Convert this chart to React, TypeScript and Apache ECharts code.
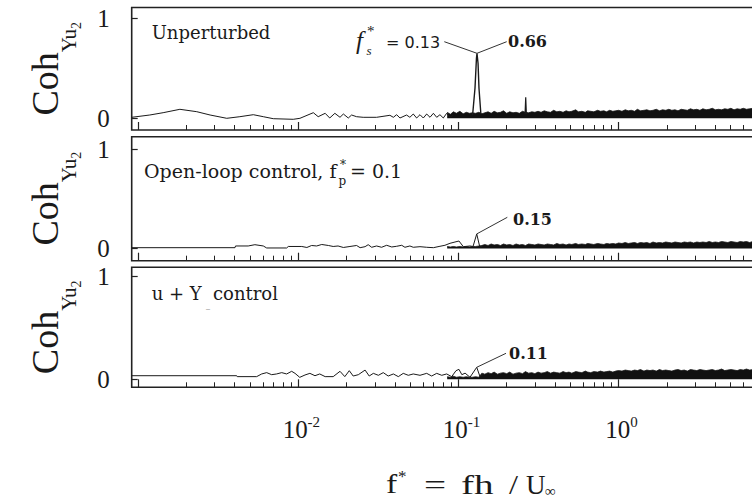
import React, { useEffect, useRef } from "react";
import * as echarts from "echarts";

// ---------- axis data ----------
const xMin = 0.00091;
const xMax = 10;
const majorTicks = [0.001, 0.01, 0.1, 1, 10];
const minorTicks = [
  0.002, 0.003, 0.004, 0.005, 0.006, 0.007, 0.008, 0.009,
  0.02, 0.03, 0.04, 0.05, 0.06, 0.07, 0.08, 0.09,
  0.2, 0.3, 0.4, 0.5, 0.6, 0.7, 0.8, 0.9,
  2, 3, 4, 5, 6, 7, 8, 9,
];
const xLabelTicks = [0.01, 0.1, 1];
const yTickValues = [0, 1];
const yMins = [-0.117, -0.123, -0.078];
const yMaxs = [1.108, 1.124, 1.092];
const yName = "{c|Coh}{s|Yu}{ss|2}";

// ---------- panel 1 : Unperturbed ----------
const p1LowFreq = [
  0.00091, 0.00118, 0.00143, 0.00182, 0.00232, 0.00281, 0.00357, 0.00431, 0.00523, 0.00604,
  0.00697, 0.00929, 0.01023, 0.0124, 0.0133, 0.0147, 0.0157, 0.0169, 0.0182, 0.0191,
  0.0205, 0.0215, 0.0231, 0.0254, 0.0308, 0.0373, 0.0392, 0.0411, 0.0431, 0.0474,
  0.0497, 0.0522, 0.0548, 0.0575, 0.0603, 0.0633, 0.0664, 0.0697, 0.0731, 0.0766,
  0.0804, 0.0844, 0.0885, 0.0929,
];
const p1LowVal = [
  0.01, 0.033, 0.056, 0.09, 0.066, 0.033, 0.0, 0.016, 0.036, 0.016,
  -0.004, -0.01, 0.0, 0.056, 0.016, 0.05, 0.003, 0.05, 0.01, 0.043,
  0.003, 0.033, 0.016, 0.01, 0.01, 0.03, 0.01, 0.036, 0.003, 0.033,
  0.01, 0.043, 0.003, 0.036, 0.003, 0.043, 0.01, 0.05, 0.01, 0.036,
  0.003, 0.05, 0.01, 0.03,
];
const p1PeakFreq = [0.1225, 0.1268, 0.1295, 0.1305, 0.1325, 0.1343, 0.138];
const p1PeakVal = [0.03, 0.3, 0.6, 0.65, 0.55, 0.3, 0.04];
const p1HarmFreq = [0.2605, 0.263, 0.2655];
const p1HarmVal = [0.04, 0.21, 0.04];

// ---------- dense high-frequency band (upper envelope) ----------
const bandFreq = [
  0.085, 0.089, 0.093, 0.097, 0.102, 0.107, 0.112, 0.117, 0.122, 0.128, 0.134, 0.14,
  0.146, 0.153, 0.16, 0.167, 0.175, 0.183, 0.191, 0.2, 0.209, 0.219, 0.229, 0.24,
  0.251, 0.262, 0.274, 0.287, 0.3, 0.314, 0.328, 0.343, 0.359, 0.376, 0.393, 0.411,
  0.43, 0.45, 0.47, 0.49, 0.51, 0.54, 0.56, 0.59, 0.62, 0.64, 0.67, 0.7, 0.74, 0.77,
  0.81, 0.84, 0.88, 0.92, 0.96, 1.0, 1.05, 1.1, 1.15, 1.2, 1.26, 1.31, 1.37, 1.44,
  1.5, 1.57, 1.64, 1.72, 1.8, 1.88, 1.97, 2.06, 2.15, 2.25, 2.35, 2.46, 2.57, 2.69,
  2.81, 2.94, 3.08, 3.22, 3.36, 3.52, 3.68, 3.85, 4.02, 4.21, 4.4, 4.6, 4.81, 5.03,
  5.26, 5.5, 5.75, 6.01, 6.29, 6.58, 6.88, 7.19, 7.52, 7.86, 8.2,
];
const p1Band = [
  0.06, 0.04, 0.065, 0.05, 0.07, 0.045, 0.06, 0.05, 0.055, 0.05, 0.06, 0.045,
  0.055, 0.065, 0.05, 0.07, 0.055, 0.06, 0.075, 0.05, 0.065, 0.055, 0.06, 0.05, 0.07, 0.06, 0.055, 0.065, 0.06,
  0.07, 0.06, 0.075, 0.065, 0.06, 0.08, 0.065, 0.07, 0.06, 0.075, 0.065, 0.07, 0.085, 0.065, 0.07, 0.06, 0.075,
  0.07, 0.065, 0.08, 0.07, 0.075, 0.065, 0.08, 0.07, 0.075,
  0.08, 0.07, 0.085, 0.075, 0.08, 0.07, 0.09, 0.075, 0.08, 0.085, 0.075, 0.08, 0.09, 0.075, 0.085, 0.08,
  0.09, 0.08, 0.085, 0.075, 0.09, 0.085, 0.08, 0.095, 0.085, 0.09, 0.08, 0.095, 0.085, 0.09, 0.1, 0.085,
  0.09, 0.085, 0.095, 0.09, 0.1, 0.085, 0.095, 0.09, 0.1, 0.09, 0.095, 0.1, 0.09, 0.1, 0.095, 0.1,
];

// ---------- panel 2 : Open-loop control ----------
const p2LowFreq = [
  0.00091, 0.00402, 0.00405, 0.00486, 0.00535, 0.00604, 0.00634, 0.00845, 0.00865, 0.0105,
  0.0113, 0.0121, 0.013, 0.014, 0.0154, 0.0165, 0.0177, 0.0191, 0.021, 0.0231,
  0.0243, 0.0261, 0.0273, 0.0287, 0.0308, 0.0331, 0.0356, 0.0383, 0.0411, 0.0442,
  0.0463, 0.0497, 0.0522, 0.0575, 0.0633, 0.0697, 0.0766, 0.0823, 0.0885, 0.0951,
  0.1007, 0.1072, 0.118, 0.1233, 0.13, 0.136, 0.143,
];
const p2LowVal = [
  0.008, 0.008, 0.025, 0.025, 0.038, 0.025, 0.005, 0.005, 0.02, 0.02,
  0.01, 0.03, 0.025, 0.04, 0.03, 0.02, 0.025, 0.01, 0.02, 0.03,
  0.008, 0.018, 0.038, 0.012, 0.025, 0.012, 0.032, 0.015, 0.022, 0.032,
  0.012, 0.025, 0.012, 0.018, 0.012, 0.008, 0.022, 0.032, 0.052, 0.065,
  0.075, 0.018, 0.025, 0.02, 0.146, 0.012, 0.03,
];
const p2Band = [
  0.02, 0.015, 0.02, 0.015, 0.02, 0.015, 0.02, 0.015, 0.02, 0.02, 0.025,
  0.03, 0.04, 0.03, 0.045, 0.035, 0.04, 0.03, 0.045, 0.035, 0.04, 0.03, 0.045, 0.035, 0.04, 0.03,
  0.045, 0.04, 0.035, 0.045, 0.04, 0.035, 0.045, 0.04, 0.035, 0.05, 0.04, 0.045, 0.035, 0.045, 0.04,
  0.05, 0.04, 0.045, 0.04, 0.05, 0.045, 0.04, 0.05, 0.045, 0.04, 0.05, 0.045, 0.05, 0.045,
  0.055, 0.05, 0.06, 0.05, 0.055, 0.06, 0.05, 0.06, 0.055, 0.06, 0.05, 0.065, 0.055, 0.06, 0.055, 0.065,
  0.06, 0.055, 0.065, 0.06, 0.055, 0.065, 0.06, 0.065, 0.055, 0.065, 0.06, 0.065, 0.06, 0.07, 0.06, 0.065,
  0.06, 0.07, 0.065, 0.06, 0.07, 0.065, 0.06, 0.07, 0.065, 0.07, 0.06, 0.07, 0.065, 0.07, 0.065, 0.07,
];

// ---------- panel 3 : u + Y control ----------
const p3LowFreq = [
  0.00091, 0.00412, 0.00415, 0.00549, 0.0059, 0.00634, 0.00681, 0.00731, 0.00787, 0.00845,
  0.00908, 0.00953, 0.0102, 0.011, 0.0118, 0.0127, 0.0136, 0.0147, 0.0165, 0.0182,
  0.0195, 0.0208, 0.022, 0.0237, 0.0261, 0.0277, 0.0294, 0.0316, 0.0339, 0.0364,
  0.0392, 0.0421, 0.0452, 0.0486, 0.0522, 0.0575, 0.0633, 0.068, 0.0731, 0.0786,
  0.0844, 0.0907, 0.0965, 0.1007, 0.105, 0.11, 0.118, 0.13, 0.136, 0.144,
];
const p3LowVal = [
  0.035, 0.035, 0.026, 0.026, 0.052, 0.065, 0.045, 0.052, 0.065, 0.052,
  0.078, 0.058, 0.019, 0.042, 0.058, 0.035, 0.052, 0.026, 0.026, 0.078,
  0.026, 0.084, 0.032, 0.045, 0.09, 0.032, 0.058, 0.039, 0.065, 0.032,
  0.052, 0.026, 0.058, 0.039, 0.052, 0.039, 0.058, 0.032, 0.058, 0.039,
  0.052, 0.026, 0.084, 0.097, 0.045, 0.06, 0.02, 0.117, 0.03, 0.05,
];
const p3Band = [
  0.025, 0.02, 0.03, 0.02, 0.025, 0.02, 0.025, 0.02, 0.02, 0.025, 0.02,
  0.06, 0.05, 0.065, 0.055, 0.07, 0.05, 0.06, 0.065, 0.055, 0.07, 0.05, 0.06, 0.065, 0.055, 0.075,
  0.06, 0.065, 0.055, 0.07, 0.06, 0.065, 0.075, 0.06, 0.07, 0.065, 0.06, 0.075, 0.065, 0.07, 0.06,
  0.075, 0.07, 0.065, 0.08, 0.07, 0.065, 0.075, 0.07, 0.08, 0.07, 0.075, 0.08, 0.07, 0.08,
  0.085, 0.08, 0.09, 0.085, 0.08, 0.09, 0.085, 0.095, 0.08, 0.09, 0.085, 0.09, 0.08, 0.095, 0.085, 0.09,
  0.085, 0.08, 0.09, 0.095, 0.085, 0.09, 0.08, 0.095, 0.09, 0.085, 0.095, 0.09, 0.085, 0.09, 0.095, 0.085,
  0.09, 0.1, 0.085, 0.09, 0.095, 0.09, 0.085, 0.095, 0.09, 0.1, 0.09, 0.095, 0.09, 0.1, 0.09, 0.095,
];

// ---------- layout (pixels) ----------
const GRID_LEFT = 131.7;
const GRID_WIDTH = 647;
const gridTops = [7.5, 136.7, 267.3];
const gridHeights = [122.5, 124, 120];
const INK = "#1a1a1a";
const SERIF = "'Liberation Serif', 'Times New Roman', Times, serif";
const WIDE_SERIF = "'DejaVu Serif', serif";
const SANS = "'DejaVu Sans', sans-serif";

const zip = (a: number[], b: number[]) => {
  const n = Math.min(a.length, b.length);
  const out: number[][] = [];
  for (let i = 0; i < n; i++) out.push([a[i], b[i]]);
  return out;
};

const peakOf = (fs: number[], vs: number[]) => {
  let k = 0;
  vs.forEach((v, j) => {
    if (v > vs[k]) k = j;
  });
  return [fs[k], vs[k]];
};

function buildOption() {
  const grid = gridTops.map((top, i) => ({
    left: GRID_LEFT,
    top,
    width: GRID_WIDTH,
    height: gridHeights[i],
    show: true,
    borderColor: "#222",
    borderWidth: 1.6,
    backgroundColor: "transparent",
    containLabel: false,
    outerBoundsMode: "none",
  }));

  const xAxis: any[] = [];
  gridTops.forEach((_, i) => {
    xAxis.push({
      gridIndex: i,
      type: "log",
      logBase: 10,
      min: xMin,
      max: xMax,
      position: "bottom",
      axisLine: { show: false, onZero: false },
      splitLine: { show: false },
      axisTick: {
        show: true,
        customValues: majorTicks,
        inside: true,
        length: 8,
        lineStyle: { color: "#222", width: 1.2 },
      },
      axisLabel:
        i === 2
          ? {
              show: true,
              customValues: xLabelTicks,
              margin: 27,
              padding: [0, 0, 0, 6],
              formatter: (v: number) => `{b|10}{s|${Math.round(Math.log10(v))}}`,
              rich: {
                b: { fontFamily: SERIF, fontSize: 25, lineHeight: 28, verticalAlign: "bottom", color: INK },
                s: { fontFamily: SERIF, fontSize: 15, lineHeight: 16, verticalAlign: "top", color: INK },
              },
            }
          : { show: false },
    });
    xAxis.push({
      gridIndex: i,
      type: "log",
      logBase: 10,
      min: xMin,
      max: xMax,
      position: "bottom",
      axisLine: { show: false, onZero: false },
      splitLine: { show: false },
      axisTick: {
        show: true,
        customValues: minorTicks,
        inside: true,
        length: 5,
        lineStyle: { color: "#222", width: 1 },
      },
      axisLabel: { show: false },
    });
  });

  const yAxis = gridTops.map((_, i) => ({
    gridIndex: i,
    type: "value",
    min: yMins[i],
    max: yMaxs[i],
    name: yName,
    nameLocation: "middle",
    nameRotate: 90,
    nameGap: 67.7,
    nameMoveOverlap: false,
    nameTextStyle: {
      rich: {
        c: { fontFamily: SERIF, fontSize: 38, lineHeight: 38, verticalAlign: "top", color: INK },
        s: { fontFamily: SERIF, fontSize: 21, lineHeight: 21, padding: [32.5, 0, 0, 0], verticalAlign: "top", color: INK },
        ss: { fontFamily: SERIF, fontSize: 14, lineHeight: 14, padding: [43, 0, 0, 0], verticalAlign: "top", color: INK },
      },
    },
    axisLine: { show: false, onZero: false },
    splitLine: { show: false },
    axisTick: {
      show: true,
      customValues: yTickValues,
      inside: true,
      length: 6,
      lineStyle: { color: "#222", width: 1.2 },
    },
    axisLabel: {
      show: true,
      customValues: yTickValues,
      margin: 22,
      fontFamily: SERIF,
      fontSize: 25,
      color: INK,
    },
  }));

  const lineSeries = (name: string, data: number[][], xi: number, yi: number, width = 1) => ({
    name,
    type: "line",
    xAxisIndex: xi,
    yAxisIndex: yi,
    data,
    showSymbol: false,
    symbol: "none",
    silent: true,
    lineStyle: { color: INK, width },
    z: 3,
  });
  const bandSeries = (name: string, vals: number[], xi: number, yi: number) => ({
    name,
    type: "line",
    xAxisIndex: xi,
    yAxisIndex: yi,
    data: zip(bandFreq, vals),
    showSymbol: false,
    symbol: "none",
    silent: true,
    lineStyle: { color: INK, width: 0.8 },
    areaStyle: { color: "#111", opacity: 1 },
    z: 2,
  });

  const series = [
    bandSeries("p1Band", p1Band, 0, 0),
    lineSeries("p1Low", zip(p1LowFreq, p1LowVal), 0, 0),
    lineSeries("p1Peak", zip(p1PeakFreq, p1PeakVal), 0, 0, 1.4),
    lineSeries("p1Harm", zip(p1HarmFreq, p1HarmVal), 0, 0, 1.2),
    bandSeries("p2Band", p2Band, 2, 1),
    lineSeries("p2Low", zip(p2LowFreq, p2LowVal), 2, 1),
    bandSeries("p3Band", p3Band, 4, 2),
    lineSeries("p3Low", zip(p3LowFreq, p3LowVal), 4, 2),
  ];

  return {
    animation: false,
    backgroundColor: "#ffffff",
    grid,
    xAxis,
    yAxis,
    series,
  };
}

const txt = (x: number, y: number, text: string, fontFamily: string, fontSize: number, styleExtra: any = {}) => ({
  type: "text",
  x,
  y,
  silent: true,
  z: 10,
  style: {
    text,
    fontFamily,
    fontSize,
    fill: INK,
    align: "left",
    verticalAlign: "middle",
    ...styleExtra,
  },
});

// horizontally stretched text, used for the wide glyphs of the axis title
const wideTxt = (x: number, y: number, stretch: number, text: string, fontFamily: string, fontSize: number) => ({
  type: "group",
  x,
  y,
  silent: true,
  z: 10,
  children: [
    {
      type: "text",
      x: 0,
      y: 0,
      scaleX: stretch,
      silent: true,
      z: 10,
      style: { text, fontFamily, fontSize, fill: INK, align: "left", verticalAlign: "middle" },
    },
  ],
});

const seg = (a: number[], b: number[]) => ({
  type: "line",
  silent: true,
  z: 10,
  shape: { x1: a[0], y1: a[1], x2: b[0], y2: b[1] },
  style: { stroke: "#333", lineWidth: 1 },
});

function buildGraphic(chart: echarts.ECharts) {
  const pk1 = chart.convertToPixel({ xAxisIndex: 0, yAxisIndex: 0 } as any, peakOf(p1PeakFreq, p1PeakVal)) as number[];
  const pk2 = chart.convertToPixel({ xAxisIndex: 2, yAxisIndex: 1 } as any, peakOf(p2LowFreq, p2LowVal)) as number[];
  const pk3 = chart.convertToPixel({ xAxisIndex: 4, yAxisIndex: 2 } as any, peakOf(p3LowFreq, p3LowVal)) as number[];

  const els: any[] = [];

  // panel 1 annotations
  els.push(txt(151.7, 32.5, "Unperturbed", WIDE_SERIF, 18));
  els.push(txt(356, 40, "f", SERIF, 25, { fontStyle: "italic" }));
  els.push(txt(366.5, 50.5, "s", SERIF, 13, { fontStyle: "italic" }));
  els.push(txt(367, 31, "*", SERIF, 15));
  els.push(txt(386, 42, "= 0.13", SANS, 16));
  els.push(txt(508, 41, "0.66", WIDE_SERIF, 16, { fontWeight: "bold" }));
  els.push(seg([444.3, 41.7], pk1));
  els.push(seg(pk1, [506.7, 41.7]));

  // panel 2 annotations
  els.push(txt(144, 170.5, "Open-loop control, f", WIDE_SERIF, 19));
  els.push(txt(340, 165, "*", WIDE_SERIF, 12));
  els.push(txt(338.5, 180.5, "p", WIDE_SERIF, 12));
  els.push(txt(350, 170.5, "= 0.1", WIDE_SERIF, 19));
  els.push(txt(513, 219, "0.15", WIDE_SERIF, 16, { fontWeight: "bold" }));
  els.push(seg(pk2, [507.3, 217.3]));

  // panel 3 annotations
  els.push(txt(151.7, 293.8, "u + Y", WIDE_SERIF, 18));
  els.push(txt(206, 305.5, "_", WIDE_SERIF, 8));
  els.push(txt(213, 293.8, "control", WIDE_SERIF, 18));
  els.push(txt(509, 353, "0.11", WIDE_SERIF, 16, { fontWeight: "bold" }));
  els.push(seg(pk3, [506, 353.3]));

  // x-axis title: f* = fh / U∞
  els.push(wideTxt(386, 484.5, 1.25, "f", SERIF, 27));
  els.push(txt(398, 476, "*", SERIF, 17));
  els.push(wideTxt(424, 484.5, 1.45, "=", SERIF, 27));
  els.push(wideTxt(461, 484.5, 1.45, "fh", SERIF, 27));
  els.push(wideTxt(509, 484.5, 1.2, "/", SERIF, 27));
  els.push(txt(526, 484.5, "U", SERIF, 27));
  els.push(txt(545, 491, "∞", SERIF, 15));

  return els;
}

export default function App() {
  const ref = useRef<HTMLDivElement>(null);
  useEffect(() => {
    if (!ref.current) return;
    const chart = echarts.init(ref.current, null, { renderer: "svg" });
    chart.setOption(buildOption() as any);
    chart.setOption({ graphic: buildGraphic(chart) } as any);
    return () => chart.dispose();
  }, []);
  return (
    <div
      ref={ref}
      style={{ position: "fixed", left: 0, top: 0, width: 752, height: 499, background: "#fff" }}
    />
  );
}
